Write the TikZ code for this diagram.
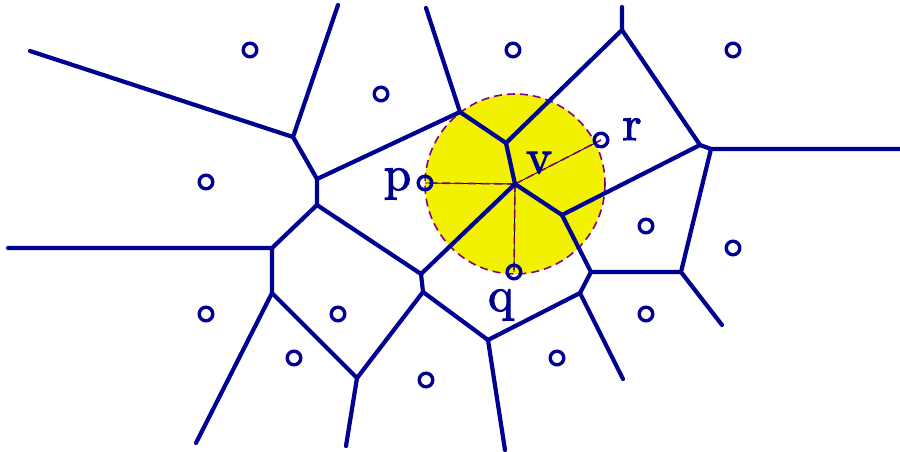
\documentclass[tikz,border=0pt]{standalone}
\usepackage{fontspec}
\newfontfamily\lblfont{lmroman10-regular.otf}
\newcommand{\heavy}[1]{\special{pdf:literal direct 2 Tr 1.1 w}#1\special{pdf:literal direct 0 Tr}}
\begin{document}
\begin{tikzpicture}[x=1pt,y=-1pt,
  edge/.style={draw=vblue,line width=4.2pt,line cap=round,line join=round},
  site/.style={draw=vblue,line width=3.4pt},
  lbl/.style={text=vblue,font=\lblfont\fontsize{49}{49}\selectfont,inner sep=0pt,anchor=base}]
\definecolor{vblue}{RGB}{0,0,145}
\definecolor{vyel}{RGB}{242,242,0}
\definecolor{vpurp}{RGB}{128,0,128}
\useasboundingbox (0,0) rectangle (900,452);
% empty circle
\coordinate (v) at (515,184);
\fill[vyel] (v) circle (90);
\coordinate (p) at (425,183);
\coordinate (q) at (514,272);
\coordinate (r) at (601,140);
\foreach \s in {p,q,r}{
  \draw[black,line width=0.8pt] (v) -- (\s);
  \draw[vpurp,line width=1.6pt,dash pattern=on 8pt off 5pt] (v) -- (\s);
}
\draw[vpurp,line width=1.6pt,dash pattern=on 8pt off 5pt] (v) circle (90);
% vertices
\coordinate (V1) at (293,137);
\coordinate (V2) at (317,179);
\coordinate (V3) at (317,205);
\coordinate (V4) at (272,248);
\coordinate (V5) at (272,293);
\coordinate (V6) at (357,378);
\coordinate (V7) at (423,292);
\coordinate (V8) at (421,274);
\coordinate (V9) at (488,340);
\coordinate (Va) at (460,112);
\coordinate (Vc) at (506,143);
\coordinate (Vd) at (562,215);
\coordinate (Ve) at (591,272);
\coordinate (Vf) at (580,293);
\coordinate (Vg) at (622,30);
\coordinate (Vh) at (700,145);
\coordinate (Vi) at (711,149);
\coordinate (Vj) at (681,272);
% free ends
\coordinate (E1) at (30,51);
\coordinate (E2) at (338,5);
\coordinate (E3) at (426,8);
\coordinate (E4) at (622,7);
\coordinate (E5) at (900,149);
\coordinate (E6) at (722,325);
\coordinate (E7) at (623,379);
\coordinate (E8) at (505,450);
\coordinate (E9) at (346,446);
\coordinate (E10) at (196,443);
\coordinate (E11) at (8,248);
% edges
\draw[edge] (E1) -- (V1) -- (E2);
\draw[edge] (V1) -- (V2) -- (V3) -- (V4) -- (E11);
\draw[edge] (V2) -- (Va) -- (E3);
\draw[edge] (Va) -- (Vc) -- (Vg) -- (E4);
\draw[edge] (Vg) -- (Vh) -- (Vi) -- (E5);
\draw[edge] (Vi) -- (Vj) -- (E6);
\draw[edge] (Vj) -- (Ve) -- (Vd) -- (Vh);
\draw[edge] (Vd) -- (v) -- (Vc);
\draw[edge] (v) -- (V8) -- (V3);
\draw[edge] (V4) -- (V5) -- (E10);
\draw[edge] (V5) -- (V6) -- (E9);
\draw[edge] (V6) -- (V7) -- (V8);
\draw[edge] (V7) -- (V9) -- (E8);
\draw[edge] (V9) -- (Vf) -- (Ve);
\draw[edge] (Vf) -- (E7);
% sites
\foreach \x/\y [count=\i] in {250/50,381/94,513/50,733/50,206/182,646/226,733/248,206/314,338/314,294/358,426/380,557/358,646/314}
  \draw[site] (\x,\y) circle (6.8) coordinate (S\i);
\foreach \s in {p,q,r}
  \draw[site] (\s) circle (6.8);
% labels
\node[lbl] (lp) at (397.5,190) {\heavy{p}};
\node[lbl] (lv) at (539,173) {\heavy{v}};
\node[lbl] (lr) at (632,140) {\heavy{r}};
\node[lbl] (lq) at (501,311) {\heavy{q}};
\end{tikzpicture}
\end{document}
